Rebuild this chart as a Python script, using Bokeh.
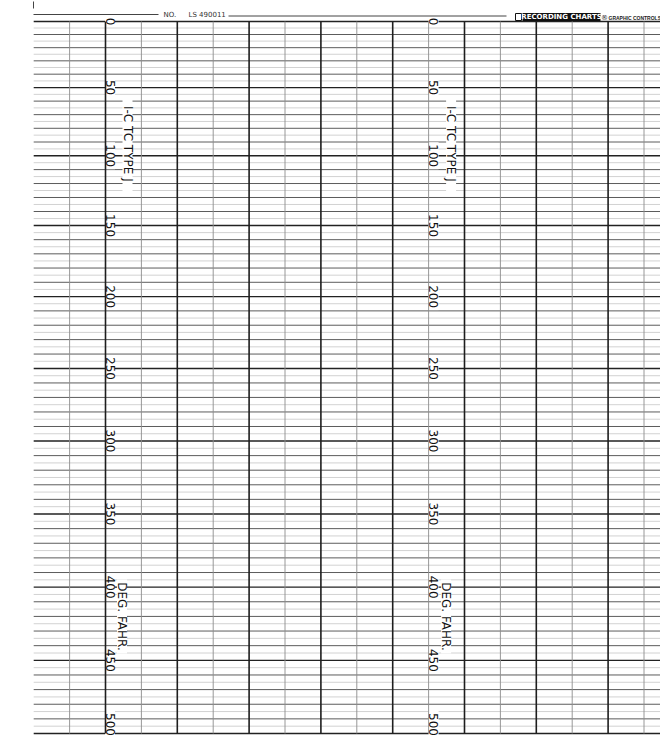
import math
from bokeh.plotting import figure
from bokeh.models import Range1d
from bokeh.core.properties import value
from bokeh.embed import file_html
from bokeh.resources import INLINE

# ---- chart data: Type J thermocouple strip chart (deg F printed, grid linear in mV) ----
deg_f = list(range(0, 501, 10))
type_j_mv = [-0.885, -0.611, -0.334, -0.057, 0.224, 0.507, 0.791, 1.076, 1.363, 1.652,
             1.942, 2.233, 2.526, 2.820, 3.115, 3.411, 3.708, 4.006, 4.305, 4.605,
             4.906, 5.207, 5.509, 5.812, 6.116, 6.420, 6.724, 7.029, 7.335, 7.641,
             7.947, 8.254, 8.561, 8.868, 9.175, 9.483, 9.791, 10.099, 10.407, 10.715,
             11.023, 11.331, 11.639, 11.947, 12.255, 12.564, 12.872, 13.180, 13.488, 13.796,
             14.104]
scale_labels = ["0", "50", "100", "150", "200", "250", "300", "350", "400", "450", "500"]
scale_deg = [0, 50, 100, 150, 200, 250, 300, 350, 400, 450, 500]
scale_columns = [0, 9]          # time divisions on which the scale is printed
time_lines = list(range(-1, 16))  # time division lines (even = heavy)
sensor_text = "I-C TC TYPE J"
unit_text = "DEG. FAHR."
chart_no = "LS 490011"

mv_of = dict(zip(deg_f, type_j_mv))

# ---- figure / scales ----
W, H = 660, 746
PXX = 35.9            # px per time division
PXY = 47.5015         # px per mV
X0 = -105 / PXX
X1 = X0 + W / PXX
Y1 = -0.885 - 21 / PXY
Y0 = Y1 + H / PXY

def xd(px):
    return X0 + px / PXX

def yd(py):
    return Y1 + py / PXY

p = figure(width=W, height=H, x_range=Range1d(X0, X1), y_range=Range1d(Y0, Y1),
           output_backend="svg", toolbar_location=None,
           x_axis_type=None, y_axis_type=None, min_border=0,
           outline_line_color=None, background_fill_color="white",
           border_fill_color="white")

x_left, x_right = -2.0, X1 + 0.1

# light intermediate lines (every 5 deg F)
mid = [(a + b) / 2 for a, b in zip(type_j_mv[:-1], type_j_mv[1:])]
p.segment(x0=[x_left] * len(mid), x1=[x_right] * len(mid), y0=mid, y1=mid,
          line_color="#c6c6c6", line_width=0.8)

minor = [mv for d, mv in zip(deg_f, type_j_mv) if d % 50 != 0]
major = [mv for d, mv in zip(deg_f, type_j_mv) if d % 50 == 0]
p.segment(x0=[x_left] * len(minor), x1=[x_right] * len(minor), y0=minor, y1=minor,
          line_color="#5c5c5c", line_width=1.0)
p.segment(x0=[x_left] * len(major), x1=[x_right] * len(major), y0=major, y1=major,
          line_color="#222222", line_width=1.4)

# scale labels and legends (printed rotated, reading downward, on white patches)
font = value("DejaVu Sans")
common = dict(angle=-math.pi / 2, text_align="center", text_baseline="middle",
              text_font=font, text_font_size="12px", text_color="#111111")
offsets = {0: (4.5, 22.0, 16.5), 9: (5.0, 22.5, 17.5)}
sensor_y, unit_y = 1.69, 11.64
for col in scale_columns:
    o_num, o_sensor, o_unit = offsets[col]
    ys = [mv_of[d] for d in scale_deg]
    ys[-1] = ys[-1] - 9 / PXY
    heights = [len(s) * 8 + 3 for s in scale_labels]
    p.rect(x=[col + o_num / PXX] * len(ys), y=ys, width=10, height=heights,
           width_units="screen", height_units="screen",
           fill_color="white", line_color=None)
    p.rect(x=[col + o_sensor / PXX, col + o_unit / PXX], y=[sensor_y, unit_y],
           width=10, height=[96, 74], width_units="screen", height_units="screen",
           fill_color="white", line_color=None)
    p.text(x=[col] * len(ys), y=ys, text=scale_labels, x_offset=o_num, **common)
    p.text(x=[col], y=[sensor_y], text=[sensor_text], x_offset=o_sensor, **common)
    p.text(x=[col], y=[unit_y], text=[unit_text], x_offset=o_unit, **common)

# time division lines
thin = [t for t in time_lines if t % 2 != 0]
thick = [t for t in time_lines if t % 2 == 0]
p.segment(x0=thin, x1=thin, y0=[type_j_mv[0]] * len(thin), y1=[type_j_mv[-1]] * len(thin),
          line_color="#8c8c8c", line_width=0.9)
p.segment(x0=thick, x1=thick, y0=[type_j_mv[0]] * len(thick), y1=[type_j_mv[-1]] * len(thick),
          line_color="#1e1e1e", line_width=1.6)

# header
p.segment(x0=[xd(33), xd(228), xd(33)], x1=[xd(158), xd(506), xd(33)],
          y0=[yd(14), yd(15.5), yd(1)], y1=[yd(14), yd(15.5), yd(8)],
          line_color="#444444", line_width=1.0)
p.text(x=[xd(163)], y=[yd(14)], text=["NO."], text_align="left", text_baseline="middle",
       text_font=font, text_font_size="7px", text_color="#333333")
p.text(x=[xd(188)], y=[yd(14)], text=[chart_no], text_align="left", text_baseline="middle",
       text_font=font, text_font_size="7px", text_color="#333333")
p.quad(left=[xd(515)], right=[xd(521)], top=[yd(13)], bottom=[yd(20)],
       fill_color="white", line_color="#111111", line_width=1)
p.quad(left=[xd(522)], right=[xd(600)], top=[yd(12.5)], bottom=[yd(20.5)],
       fill_color="#111111", line_color=None)
p.text(x=[xd(561)], y=[yd(16.5)], text=["RECORDING CHARTS"], text_align="center",
       text_baseline="middle", text_font=value("DejaVu Sans"), text_font_style="bold",
       text_font_size="7px", text_color="white")
p.text(x=[xd(604)], y=[yd(17)], text=["®"], text_align="center", text_baseline="middle",
       text_font=font, text_font_size="7px", text_color="#222222")
p.text(x=[xd(608)], y=[yd(17.5)], text=["GRAPHIC CONTROLS"], text_align="left",
       text_baseline="middle", text_font=value("Liberation Sans"), text_font_style="bold",
       text_font_size="5px", text_color="#222222")

open("out.html", "w").write(file_html(p, INLINE))
